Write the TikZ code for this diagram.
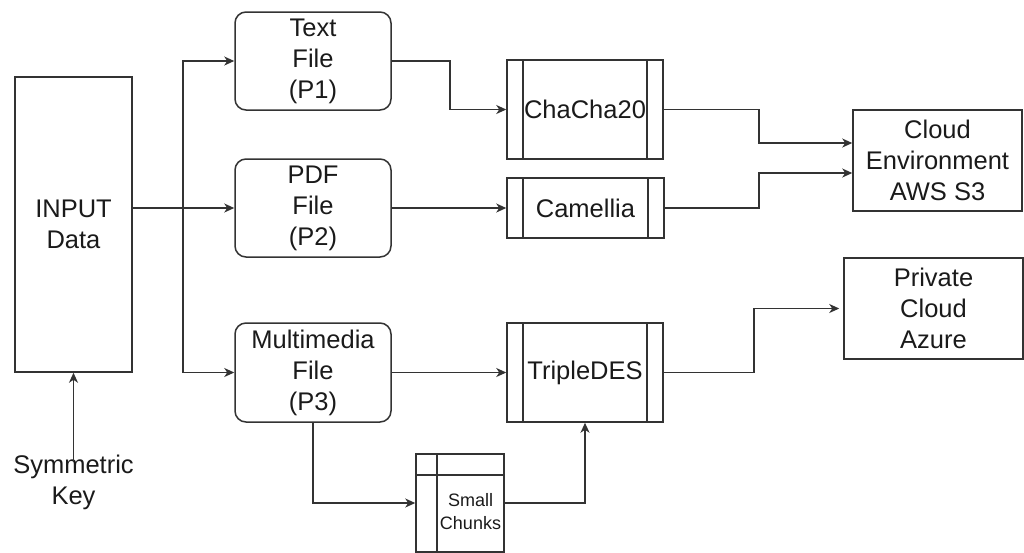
\documentclass[tikz,border=0pt]{standalone}
\usepackage{fontspec}
\setmainfont{Liberation Sans}
\usetikzlibrary{arrows.meta,calc}

\definecolor{edge}{HTML}{333333}
\definecolor{ink}{HTML}{1A1A1A}

\tikzset{
  box/.style={draw=edge, line width=1.5pt, rectangle, align=center, text=ink,
    inner sep=0pt, font=\fontsize{25.5}{31}\selectfont},
  filebox/.style={box, rounded corners=11pt, minimum width=156pt, minimum height=98pt},
  procbox/.style={box, minimum width=156pt,
    path picture={
      \draw[edge, line width=1.5pt]
        ([xshift=16pt]path picture bounding box.north west) --
        ([xshift=16pt]path picture bounding box.south west)
        ([xshift=-16pt]path picture bounding box.north east) --
        ([xshift=-16pt]path picture bounding box.south east);}},
  storebox/.style={draw=edge, line width=1.5pt, rectangle,
    minimum width=88pt, minimum height=98pt,
    path picture={
      \draw[edge, line width=1.5pt]
        ([xshift=21pt]path picture bounding box.north west) --
        ([xshift=21pt]path picture bounding box.south west)
        ([yshift=-21pt]path picture bounding box.north west) --
        ([yshift=-21pt]path picture bounding box.north east);}},
  plain/.style={align=center, text=ink, inner sep=0pt, font=\fontsize{25.5}{31}\selectfont},
  link/.style={draw=edge, line width=1.5pt},
  arrow/.style={link, -{Stealth[length=10pt,width=9pt,inset=3pt]}}
}

\begin{document}
\begin{tikzpicture}[x=1pt,y=-1pt]
  \useasboundingbox (0,0) rectangle (1024,552);

  % source data and key
  \node[box, minimum width=117pt, minimum height=295pt] (input) at (73.5,224.5) {INPUT\\Data};
  \node[plain] (key) at (73.5,482) {Symmetric\\Key};

  % split files
  \node[filebox] (textf) at (313,61) {Text\\File\\(P1)};
  \node[filebox] (pdff) at (313,208) {PDF\\File\\(P2)};
  \node[filebox, minimum height=99pt] (mediaf) at (313,372.5) {Multimedia\\File\\(P3)};

  % encryption processes
  \node[procbox, minimum height=99pt] (chacha) at (585,109.5) {ChaCha20};
  \node[procbox, minimum width=157pt, minimum height=60pt] (camellia) at (585.5,208) {Camellia};
  \node[procbox, minimum height=99pt] (triple) at (585,372.5) {TripleDES};

  % chunk store
  \node[storebox] (chunks) at (460,503) {};
  \node[align=center, text=ink, inner sep=0pt, font=\fontsize{18}{23}\selectfont]
    (chunkstext) at (470.5,512) {Small\\Chunks};

  % cloud targets
  \node[box, minimum width=169pt, minimum height=101pt] (aws) at (937.5,160.5) {Cloud\\Environment\\AWS S3};
  \node[box, minimum width=179pt, minimum height=101pt] (azure) at (933.5,308.5) {Private\\Cloud\\Azure};

  % connectors
  \draw[arrow] ([yshift=-8pt]key.north) -- (input.south);
  \coordinate (split) at (183,208);
  \draw[arrow] (input.east |- pdff.west) -- (pdff.west);
  \draw[arrow] (split) |- (textf.west);
  \draw[arrow] (split) |- (mediaf.west);

  \draw[arrow] (textf.east) -- ++(58,0) |- (chacha.west);
  \draw[arrow] (pdff.east) -- (camellia.west);
  \draw[arrow] (mediaf.east) -- (triple.west);

  \draw[arrow] (chacha.east) -- ++(95,0) |- ([yshift=17.5pt]aws.west);
  \draw[arrow] (camellia.east) -- ++(94,0) |- ([yshift=-12.5pt]aws.west);
  \draw[arrow] (triple.east) -- ++(90,0) |- ([xshift=-4pt]azure.west);

  \draw[arrow] (mediaf.south) |- (chunks.west);
  \draw[arrow] (chunks.east) -| (triple.south);
\end{tikzpicture}
\end{document}
